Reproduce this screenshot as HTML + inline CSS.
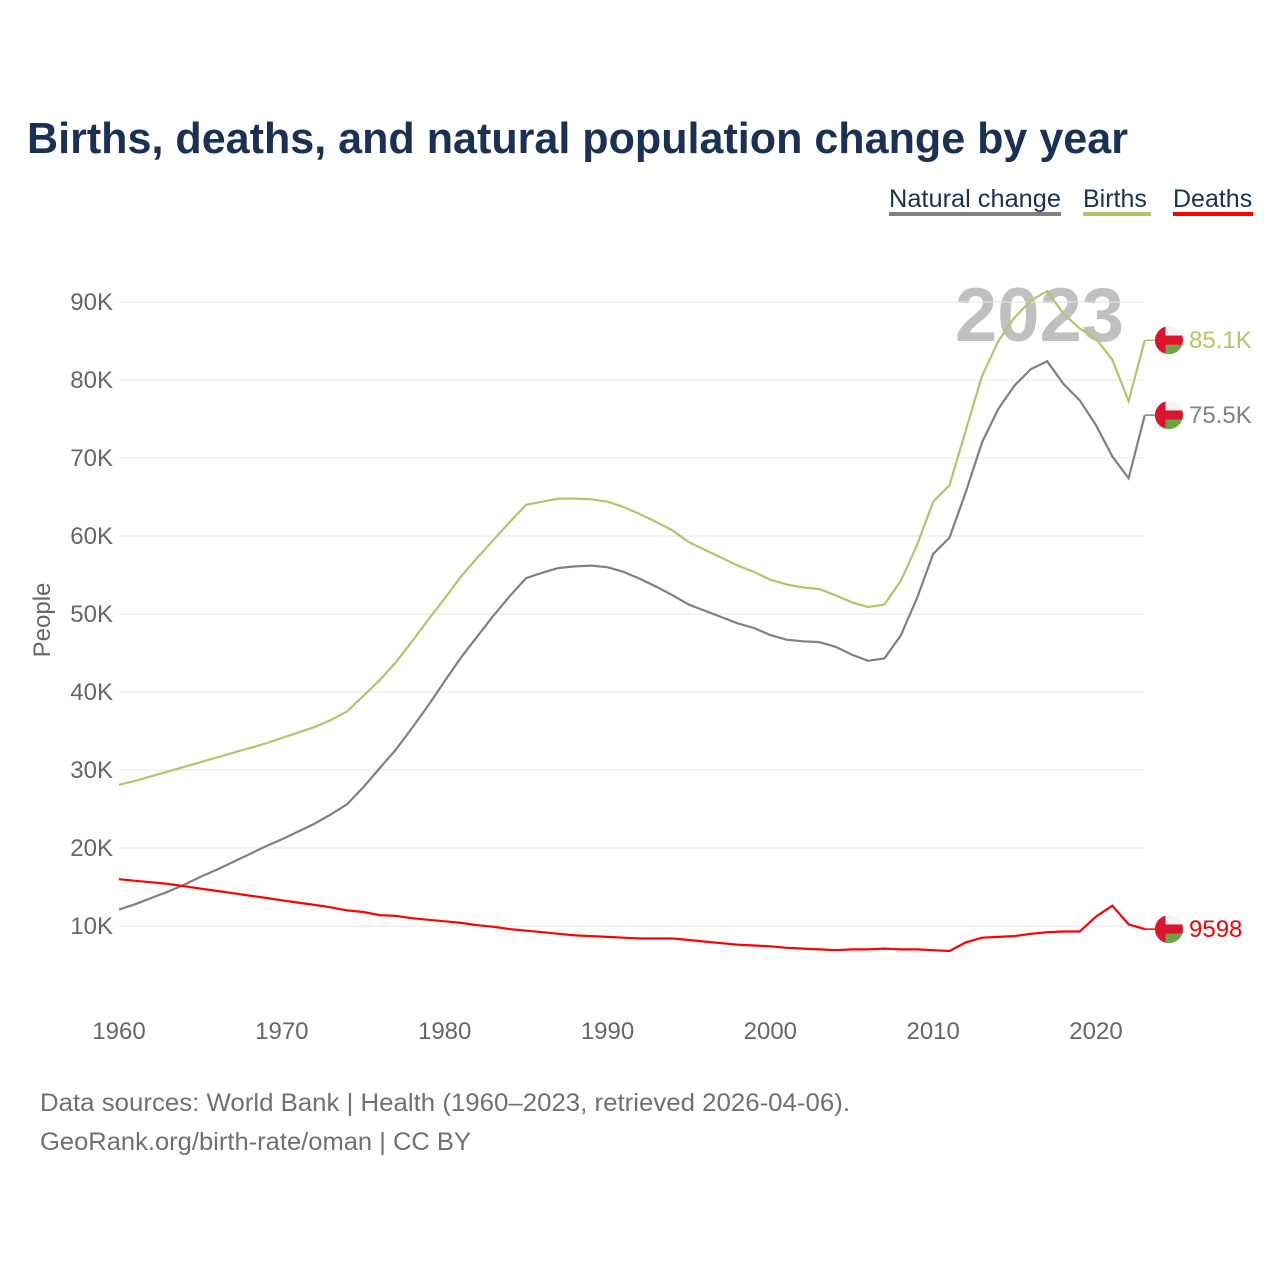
<!DOCTYPE html>
<html><head><meta charset="utf-8">
<style>
body{margin:0;background:#fff;font-family:"Liberation Sans",sans-serif;}
#wrap{position:relative;width:1280px;height:1280px;overflow:hidden;}
</style></head>
<body>
<div id="wrap">
<svg id="chart" width="1280" height="1280">
<text x="27" y="153" font-size="44" font-weight="bold" fill="#1b3153" textLength="1101" lengthAdjust="spacingAndGlyphs">Births, deaths, and natural population change by year</text>
<g font-size="25">
<g><text x="889" y="207" fill="#1b3153" textLength="172" lengthAdjust="spacingAndGlyphs">Natural change</text><rect x="889" y="212" width="172" height="4" fill="#808080"/></g>
<g><text x="1083" y="207" fill="#1b3153">Births</text><rect x="1083" y="212" width="68" height="4" fill="#b5c46a"/></g>
<g><text x="1173" y="207" fill="#1b3153">Deaths</text><rect x="1173" y="212" width="80" height="4" fill="#ff0000"/></g>
</g>
<text x="1124" y="341" font-size="76" font-weight="bold" fill="#c0c0c0" text-anchor="end">2023</text>
<g id="grid"></g>
<g id="yticks" font-size="24" fill="#666"></g>
<g id="xticks" font-size="24" fill="#666"></g>
<text transform="translate(50,620) rotate(-90)" text-anchor="middle" font-size="24" fill="#666">People</text>
<g id="series"></g>
<text x="40" y="1111" font-size="25" fill="#707070" textLength="810" lengthAdjust="spacingAndGlyphs">Data sources: World Bank | Health (1960–2023, retrieved 2026-04-06).</text>
<text x="40" y="1150" font-size="25" fill="#707070" textLength="431" lengthAdjust="spacingAndGlyphs">GeoRank.org/birth-rate/oman | CC BY</text>
</svg>
</div>
<script>
const years=[];for(let y=1960;y<=2023;y++)years.push(y);
const births=[28.1,28.6,29.2,29.8,30.4,31.0,31.6,32.2,32.8,33.4,34.1,34.8,35.5,36.4,37.5,39.5,41.5,43.8,46.5,49.3,52.0,54.8,57.2,59.5,61.8,64.0,64.4,64.8,64.8,64.7,64.4,63.7,62.8,61.8,60.7,59.2,58.2,57.2,56.2,55.4,54.4,53.8,53.4,53.2,52.4,51.5,50.9,51.2,54.2,58.8,64.4,66.5,73.5,80.5,85.0,88.0,90.2,91.4,88.5,86.6,85.3,82.6,77.3,85.1];
const natural=[12.1,12.8,13.6,14.4,15.3,16.3,17.2,18.2,19.2,20.2,21.1,22.1,23.1,24.3,25.6,27.8,30.2,32.6,35.4,38.3,41.4,44.4,47.1,49.8,52.3,54.6,55.3,55.9,56.1,56.2,56.0,55.4,54.5,53.5,52.4,51.2,50.4,49.6,48.8,48.2,47.3,46.7,46.5,46.4,45.8,44.8,44.0,44.3,47.2,52.0,57.7,59.8,65.6,72.0,76.3,79.3,81.4,82.4,79.5,77.4,74.2,70.2,67.4,75.5];
const deaths=[16.0,15.8,15.6,15.4,15.1,14.8,14.5,14.2,13.9,13.6,13.3,13.0,12.7,12.4,12.0,11.8,11.4,11.3,11.0,10.8,10.6,10.4,10.1,9.9,9.6,9.4,9.2,9.0,8.8,8.7,8.6,8.5,8.4,8.4,8.4,8.2,8.0,7.8,7.6,7.5,7.4,7.2,7.1,7.0,6.9,7.0,7.0,7.1,7.0,7.0,6.9,6.8,7.9,8.5,8.6,8.7,9.0,9.2,9.3,9.3,11.2,12.6,10.2,9.598];
const yTicks=[10,20,30,40,50,60,70,80,90];
const xTicks=[1960,1970,1980,1990,2000,2010,2020];
const endLabels=["85.1K","75.5K","9598"];
const NS="http://www.w3.org/2000/svg";
const xs=y=>119+(y-1960)*977/60;
const ys=v=>1004-v*7.8;
function mk(t,a,p){const e=document.createElementNS(NS,t);for(const k in a)e.setAttribute(k,a[k]);p.appendChild(e);return e;}
const grid=document.getElementById('grid'),yt=document.getElementById('yticks'),xt=document.getElementById('xticks'),ser=document.getElementById('series');
yTicks.forEach(v=>{
 const l=mk('line',{x1:119,x2:1144,y1:ys(v*1),y2:ys(v*1),stroke:'#e6e6e6','stroke-width':1},grid);
 
 
 const t=mk('text',{x:113,y:ys(v)+8,'text-anchor':'end'},yt);t.textContent=v+'K';
 
 
});
xTicks.forEach(v=>{
 const t=mk('text',{x:xs(v),y:1039,'text-anchor':'middle'},xt);t.textContent=v;
 
 
});
const defs=[[births,'#b5c46a','births-line',0],[natural,'#808080','natural-change-line',1],[deaths,'#ff0000','deaths-line',2]];
defs.forEach(([d,c,n,i])=>{
 const pts=d.map((v,k)=>xs(years[k]).toFixed(1)+','+ys(v).toFixed(1)).join(' ');
 const p=mk('polyline',{points:pts,fill:'none',stroke:c,'stroke-width':2.2},ser);
 
 
 const ly=ys(d[d.length-1]),lx=xs(2023);
 const lk=mk('line',{x1:lx,x2:lx+12,y1:ly,y2:ly,stroke:c,'stroke-width':1.5},ser);
 
 
 const g=mk('g',{},ser);
 
 
 const cx=1169,r=14;
 const cid='cl'+i;
 const cp=mk('clipPath',{id:cid},g);mk('circle',{cx:cx,cy:ly,r:r},cp);
 const gg=mk('g',{'clip-path':'url(#'+cid+')'},g);
 mk('rect',{x:cx-r,y:ly-r,width:2*r,height:2*r,fill:'#f2f2f2'},gg);
 mk('rect',{x:cx-r,y:ly+r/3,width:2*r,height:r,fill:'#6aa541'},gg);
 mk('rect',{x:cx-r,y:ly-r/3,width:2*r,height:r*2/3,fill:'#db1430'},gg);
 mk('rect',{x:cx-r,y:ly-r,width:r*0.75,height:2*r,fill:'#db1430'},gg);
 const t=mk('text',{x:1189,y:ly+8,'font-size':24,fill:c},ser);t.textContent=endLabels[i];
 
 
});
</script>
</body></html>
